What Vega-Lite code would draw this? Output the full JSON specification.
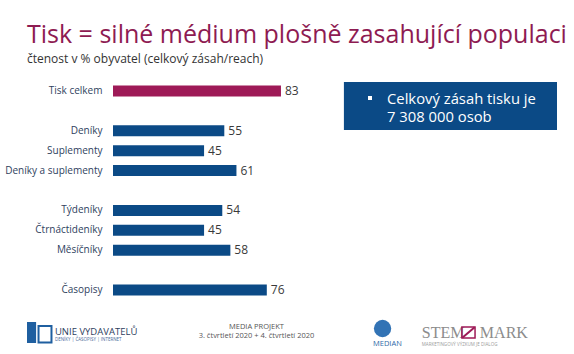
{
  "$schema": "https://vega.github.io/schema/vega-lite/v6.json",
  "width": 461,
  "height": 219,
  "autosize": {"type": "none"},
  "padding": {"left": 113, "top": 81, "right": 0, "bottom": 54},
  "background": "white",
  "config": {"view": {"stroke": null}, "font": "Open Sans"},
  "title": {
    "text": "Tisk = silné médium plošně zasahující populaci",
    "subtitle": "čtenost v % obyvatel (celkový zásah/reach)",
    "anchor": "start",
    "frame": "group",
    "dx": -86,
    "offset": 16,
    "font": "Open Sans",
    "fontSize": 25,
    "fontWeight": "normal",
    "color": "#8E1B52",
    "subtitleFont": "Open Sans",
    "subtitleFontSize": 12,
    "subtitleColor": "#333333",
    "subtitlePadding": 6
  },
  "layer": [
    {
      "data": {
        "values": [
          {"kategorie": "Tisk celkem", "hodnota": 83, "skupina": "celkem"},
          {"kategorie": "Deníky", "hodnota": 55, "skupina": "segment"},
          {"kategorie": "Suplementy", "hodnota": 45, "skupina": "segment"},
          {"kategorie": "Deníky a suplementy", "hodnota": 61, "skupina": "segment"},
          {"kategorie": "Týdeníky", "hodnota": 54, "skupina": "segment"},
          {"kategorie": "Čtrnáctideníky", "hodnota": 45, "skupina": "segment"},
          {"kategorie": "Měsíčníky", "hodnota": 58, "skupina": "segment"},
          {"kategorie": "Časopisy", "hodnota": 76, "skupina": "segment"}
        ]
      },
      "encoding": {
        "y": {
          "field": "kategorie",
          "type": "nominal",
          "sort": null,
          "scale": {
            "domain": ["Tisk celkem", "_1", "Deníky", "Suplementy", "Deníky a suplementy", "_2", "Týdeníky", "Čtrnáctideníky", "Měsíčníky", "_3", "Časopisy"],
            "paddingInner": 0.45,
            "paddingOuter": 0.225
          },
          "axis": {
            "title": null,
            "domain": false,
            "ticks": false,
            "labelPadding": 11,
            "labelFont": "Open Sans",
            "labelFontSize": 10,
            "labelColor": "#2f4260",
            "labelExpr": "indexof(datum.label, '_') == 0 ? '' : datum.label"
          }
        },
        "x": {
          "field": "hodnota",
          "type": "quantitative",
          "scale": {"domain": [0, 227.8], "nice": false, "zero": false},
          "axis": null
        }
      },
      "layer": [
        {
          "mark": {"type": "bar"},
          "encoding": {
            "color": {
              "field": "skupina",
              "type": "nominal",
              "scale": {"domain": ["celkem", "segment"], "range": ["#9E1A57", "#0B4A86"]},
              "legend": null
            }
          }
        },
        {
          "mark": {"type": "text", "align": "left", "dx": 4, "fontSize": 12, "color": "#3a3a3a", "font": "Open Sans"},
          "encoding": {"text": {"field": "hodnota", "type": "quantitative"}}
        }
      ]
    },
    {
      "data": {"values": [{}]},
      "encoding": {
        "y": {"datum": 0, "type": "quantitative", "scale": {"domain": [0, 219], "reverse": true, "nice": false, "zero": false}, "axis": null}
      },
      "layer": [
        {
          "mark": {"type": "rect", "color": "#0B4A86"},
          "encoding": {
            "x": {"datum": 114.1, "type": "quantitative"},
            "x2": {"datum": 219.4},
            "y": {"datum": 1, "type": "quantitative"},
            "y2": {"datum": 49}
          }
        },
        {
          "mark": {"type": "point", "shape": "square", "size": 16, "filled": true, "color": "white", "opacity": 1},
          "encoding": {
            "x": {"datum": 127, "type": "quantitative"},
            "y": {"datum": 17, "type": "quantitative"}
          }
        },
        {
          "mark": {"type": "text", "text": "Celkový zásah tisku je", "align": "left", "baseline": "alphabetic", "fontSize": 14.8, "color": "white", "font": "Open Sans"},
          "encoding": {
            "x": {"datum": 135.4, "type": "quantitative"},
            "y": {"datum": 22.5, "type": "quantitative"}
          }
        },
        {
          "mark": {"type": "text", "text": "7 308 000 osob", "align": "left", "baseline": "alphabetic", "fontSize": 14.8, "color": "white", "font": "Open Sans"},
          "encoding": {
            "x": {"datum": 135.4, "type": "quantitative"},
            "y": {"datum": 40.5, "type": "quantitative"}
          }
        },
        {
          "mark": {"type": "rect", "color": "#1F5FA0"},
          "encoding": {
            "x": {"datum": -42.5, "type": "quantitative"},
            "x2": {"datum": -38},
            "y": {"datum": 241, "type": "quantitative"},
            "y2": {"datum": 262}
          }
        },
        {
          "mark": {"type": "rect", "fill": null, "stroke": "#1F5FA0", "strokeWidth": 2},
          "encoding": {
            "x": {"datum": -36.8, "type": "quantitative"},
            "x2": {"datum": -30.4},
            "y": {"datum": 245, "type": "quantitative"},
            "y2": {"datum": 261.5}
          }
        },
        {
          "mark": {"type": "text", "text": "UNIE VYDAVATELŮ", "align": "left", "baseline": "alphabetic", "fontSize": 9.5, "color": "#2d3e5e", "font": "Open Sans"},
          "encoding": {
            "x": {"datum": -28.7, "type": "quantitative"},
            "y": {"datum": 253.5, "type": "quantitative"}
          }
        },
        {
          "mark": {"type": "text", "text": "DENÍKY | ČASOPISY | INTERNET", "align": "left", "baseline": "alphabetic", "fontSize": 4.5, "color": "#4a6a9a", "font": "Open Sans"},
          "encoding": {
            "x": {"datum": -28.7, "type": "quantitative"},
            "y": {"datum": 260, "type": "quantitative"}
          }
        },
        {
          "mark": {"type": "text", "text": "MEDIA PROJEKT", "align": "center", "baseline": "alphabetic", "fontSize": 7.5, "color": "#555555", "font": "Open Sans"},
          "encoding": {
            "x": {"datum": 70.9, "type": "quantitative"},
            "y": {"datum": 248, "type": "quantitative"}
          }
        },
        {
          "mark": {"type": "text", "text": "3. čtvrtletí 2020 + 4. čtvrtletí 2020", "align": "center", "baseline": "alphabetic", "fontSize": 7.5, "color": "#555555", "font": "Open Sans"},
          "encoding": {
            "x": {"datum": 70.9, "type": "quantitative"},
            "y": {"datum": 257, "type": "quantitative"}
          }
        },
        {
          "mark": {"type": "point", "shape": "circle", "size": 300, "filled": true, "color": "#3273B5", "opacity": 1},
          "encoding": {
            "x": {"datum": 133.2, "type": "quantitative"},
            "y": {"datum": 247.5, "type": "quantitative"}
          }
        },
        {
          "mark": {"type": "text", "text": "MEDIAN", "align": "center", "baseline": "alphabetic", "fontSize": 7.5, "color": "#2f6aa8", "font": "Open Sans"},
          "encoding": {
            "x": {"datum": 135.6, "type": "quantitative"},
            "y": {"datum": 265, "type": "quantitative"}
          }
        },
        {
          "mark": {"type": "text", "text": "STEM", "align": "left", "baseline": "alphabetic", "fontSize": 16, "color": "#8c8c8c", "font": "Liberation Serif"},
          "encoding": {
            "x": {"datum": 152.6, "type": "quantitative"},
            "y": {"datum": 257, "type": "quantitative"}
          }
        },
        {
          "mark": {"type": "text", "text": "MARK", "align": "right", "baseline": "alphabetic", "fontSize": 16, "color": "#8c8c8c", "font": "Liberation Serif"},
          "encoding": {
            "x": {"datum": 205.0, "type": "quantitative"},
            "y": {"datum": 257, "type": "quantitative"}
          }
        },
        {
          "mark": {"type": "rect", "fill": null, "stroke": "#9E1A57", "strokeWidth": 1.5},
          "encoding": {
            "x": {"datum": 172.4, "type": "quantitative"},
            "x2": {"datum": 178.9},
            "y": {"datum": 246, "type": "quantitative"},
            "y2": {"datum": 257}
          }
        },
        {
          "mark": {"type": "rule", "stroke": "#9E1A57", "strokeWidth": 2},
          "encoding": {
            "x": {"datum": 172.6, "type": "quantitative"},
            "x2": {"datum": 178.7},
            "y": {"datum": 256.8, "type": "quantitative"},
            "y2": {"datum": 246.2}
          }
        },
        {
          "mark": {"type": "text", "text": "MARKETINGOVÝ VÝZKUM JE DIALOG", "align": "left", "baseline": "alphabetic", "fontSize": 4.5, "color": "#9a9a9a", "font": "Open Sans"},
          "encoding": {
            "x": {"datum": 152.6, "type": "quantitative"},
            "y": {"datum": 264.5, "type": "quantitative"}
          }
        }
      ]
    }
  ],
  "resolve": {"scale": {"y": "independent"}, "axis": {"y": "independent"}}
}
